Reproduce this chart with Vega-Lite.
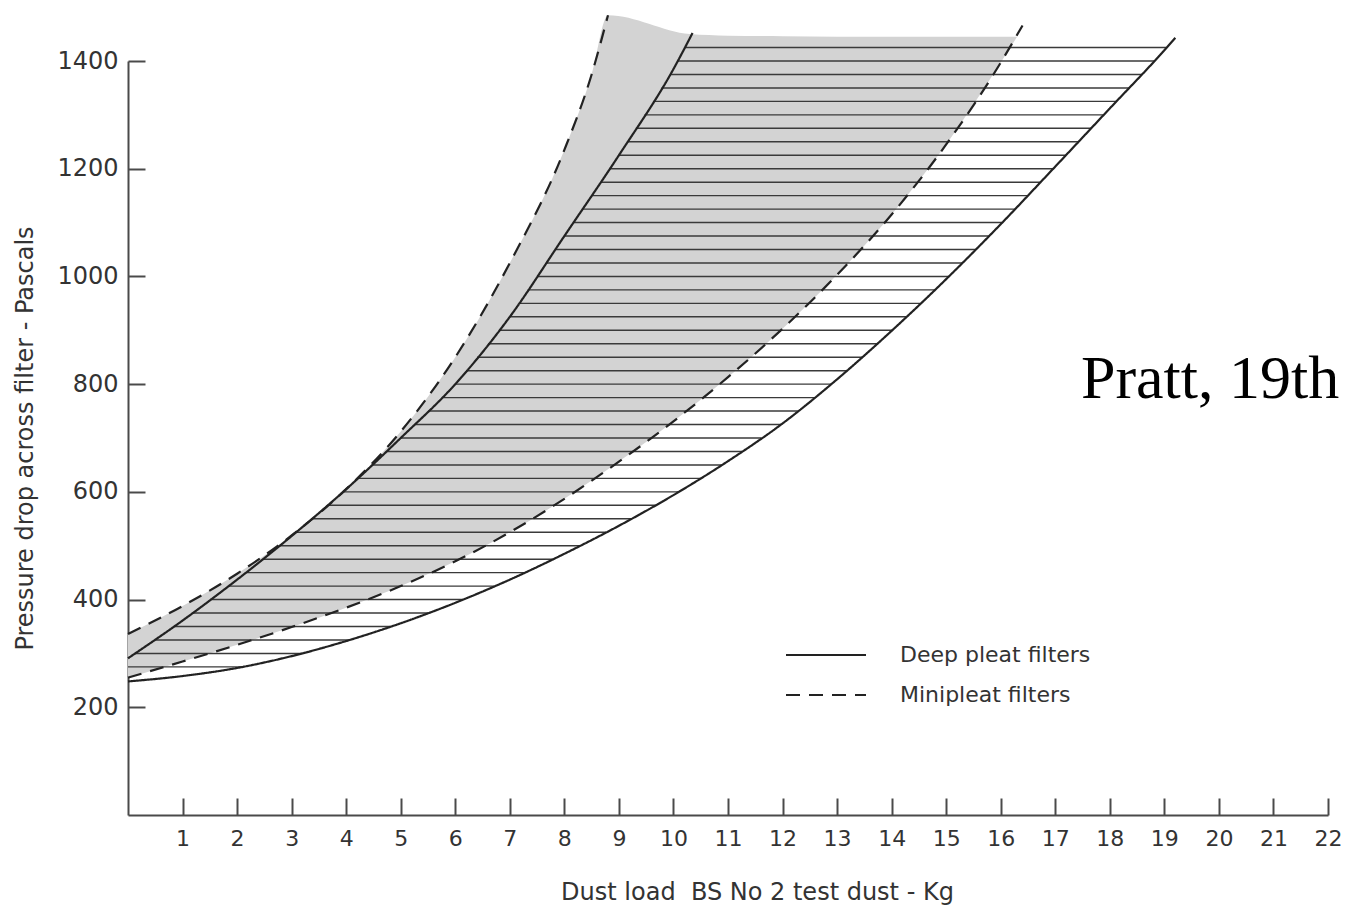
{
  "$schema": "https://vega.github.io/schema/vega-lite/v6.json",
  "width": 1200,
  "height": 754,
  "autosize": {"type": "none"},
  "padding": {"left": 128, "top": 61, "right": 25, "bottom": 93},
  "background": "white",
  "config": {"view": {"stroke": null}, "font": "DejaVu Sans"},
  "datasets": {
    "curves": [
      {"curve": "A", "series": "Deep pleat filters", "x": 0, "y": 291},
      {"curve": "A", "series": "Deep pleat filters", "x": 1, "y": 361},
      {"curve": "A", "series": "Deep pleat filters", "x": 2, "y": 437},
      {"curve": "A", "series": "Deep pleat filters", "x": 3, "y": 518},
      {"curve": "A", "series": "Deep pleat filters", "x": 4, "y": 605},
      {"curve": "A", "series": "Deep pleat filters", "x": 5, "y": 700},
      {"curve": "A", "series": "Deep pleat filters", "x": 6, "y": 800},
      {"curve": "A", "series": "Deep pleat filters", "x": 7, "y": 925},
      {"curve": "A", "series": "Deep pleat filters", "x": 8, "y": 1075},
      {"curve": "A", "series": "Deep pleat filters", "x": 9, "y": 1225},
      {"curve": "A", "series": "Deep pleat filters", "x": 10, "y": 1385},
      {"curve": "A", "series": "Deep pleat filters", "x": 10.35, "y": 1452},
      {"curve": "D", "series": "Deep pleat filters", "x": 0, "y": 248},
      {"curve": "D", "series": "Deep pleat filters", "x": 1, "y": 258},
      {"curve": "D", "series": "Deep pleat filters", "x": 2, "y": 273},
      {"curve": "D", "series": "Deep pleat filters", "x": 3, "y": 295},
      {"curve": "D", "series": "Deep pleat filters", "x": 4, "y": 323},
      {"curve": "D", "series": "Deep pleat filters", "x": 5, "y": 356},
      {"curve": "D", "series": "Deep pleat filters", "x": 6, "y": 394},
      {"curve": "D", "series": "Deep pleat filters", "x": 7, "y": 437},
      {"curve": "D", "series": "Deep pleat filters", "x": 8, "y": 485},
      {"curve": "D", "series": "Deep pleat filters", "x": 9, "y": 537},
      {"curve": "D", "series": "Deep pleat filters", "x": 10, "y": 594},
      {"curve": "D", "series": "Deep pleat filters", "x": 11, "y": 657},
      {"curve": "D", "series": "Deep pleat filters", "x": 12, "y": 727},
      {"curve": "D", "series": "Deep pleat filters", "x": 13, "y": 809},
      {"curve": "D", "series": "Deep pleat filters", "x": 14, "y": 899},
      {"curve": "D", "series": "Deep pleat filters", "x": 15, "y": 995},
      {"curve": "D", "series": "Deep pleat filters", "x": 16, "y": 1097},
      {"curve": "D", "series": "Deep pleat filters", "x": 17, "y": 1204},
      {"curve": "D", "series": "Deep pleat filters", "x": 18, "y": 1312},
      {"curve": "D", "series": "Deep pleat filters", "x": 19, "y": 1420},
      {"curve": "D", "series": "Deep pleat filters", "x": 19.2, "y": 1443},
      {"curve": "B", "series": "Minipleat filters", "x": 0, "y": 336},
      {"curve": "B", "series": "Minipleat filters", "x": 1, "y": 388},
      {"curve": "B", "series": "Minipleat filters", "x": 2, "y": 448},
      {"curve": "B", "series": "Minipleat filters", "x": 3, "y": 519},
      {"curve": "B", "series": "Minipleat filters", "x": 4, "y": 605},
      {"curve": "B", "series": "Minipleat filters", "x": 5, "y": 712},
      {"curve": "B", "series": "Minipleat filters", "x": 6, "y": 850},
      {"curve": "B", "series": "Minipleat filters", "x": 7, "y": 1025},
      {"curve": "B", "series": "Minipleat filters", "x": 8, "y": 1235},
      {"curve": "B", "series": "Minipleat filters", "x": 8.5, "y": 1375},
      {"curve": "B", "series": "Minipleat filters", "x": 8.8, "y": 1485},
      {"curve": "C", "series": "Minipleat filters", "x": 0, "y": 255},
      {"curve": "C", "series": "Minipleat filters", "x": 1, "y": 285},
      {"curve": "C", "series": "Minipleat filters", "x": 2, "y": 316},
      {"curve": "C", "series": "Minipleat filters", "x": 3, "y": 349},
      {"curve": "C", "series": "Minipleat filters", "x": 4, "y": 385},
      {"curve": "C", "series": "Minipleat filters", "x": 5, "y": 425},
      {"curve": "C", "series": "Minipleat filters", "x": 6, "y": 471},
      {"curve": "C", "series": "Minipleat filters", "x": 7, "y": 525},
      {"curve": "C", "series": "Minipleat filters", "x": 8, "y": 587},
      {"curve": "C", "series": "Minipleat filters", "x": 9, "y": 656},
      {"curve": "C", "series": "Minipleat filters", "x": 10, "y": 731},
      {"curve": "C", "series": "Minipleat filters", "x": 11, "y": 813},
      {"curve": "C", "series": "Minipleat filters", "x": 12, "y": 903},
      {"curve": "C", "series": "Minipleat filters", "x": 13, "y": 1003},
      {"curve": "C", "series": "Minipleat filters", "x": 14, "y": 1115},
      {"curve": "C", "series": "Minipleat filters", "x": 15, "y": 1245},
      {"curve": "C", "series": "Minipleat filters", "x": 16, "y": 1397},
      {"curve": "C", "series": "Minipleat filters", "x": 16.4, "y": 1466}
    ],
    "stipple": [
      {"x": 0, "y": 255, "y2": 336},
      {"x": 1, "y": 285, "y2": 388},
      {"x": 2, "y": 316, "y2": 448},
      {"x": 3, "y": 349, "y2": 519},
      {"x": 4, "y": 385, "y2": 605},
      {"x": 5, "y": 425, "y2": 712},
      {"x": 6, "y": 471, "y2": 850},
      {"x": 7, "y": 525, "y2": 1025},
      {"x": 8, "y": 587, "y2": 1235},
      {"x": 8.5, "y": 621, "y2": 1375},
      {"x": 8.8, "y": 642, "y2": 1485},
      {"x": 10.3, "y": 755, "y2": 1450},
      {"x": 11, "y": 813, "y2": 1447},
      {"x": 12, "y": 903, "y2": 1446},
      {"x": 13, "y": 1003, "y2": 1445},
      {"x": 14, "y": 1115, "y2": 1445},
      {"x": 15, "y": 1245, "y2": 1445},
      {"x": 16, "y": 1397, "y2": 1445},
      {"x": 16.3, "y": 1445, "y2": 1445}
    ],
    "hatch": [
      {"y": 275, "x": 0, "x2": 2.09},
      {"y": 300, "x": 0.13, "x2": 3.18},
      {"y": 325, "x": 0.49, "x2": 4.06},
      {"y": 350, "x": 0.84, "x2": 4.82},
      {"y": 375, "x": 1.18, "x2": 5.5},
      {"y": 400, "x": 1.51, "x2": 6.14},
      {"y": 425, "x": 1.84, "x2": 6.72},
      {"y": 450, "x": 2.16, "x2": 7.27},
      {"y": 475, "x": 2.47, "x2": 7.79},
      {"y": 500, "x": 2.78, "x2": 8.29},
      {"y": 525, "x": 3.08, "x2": 8.77},
      {"y": 550, "x": 3.37, "x2": 9.23},
      {"y": 575, "x": 3.66, "x2": 9.67},
      {"y": 600, "x": 3.94, "x2": 10.1},
      {"y": 625, "x": 4.21, "x2": 10.49},
      {"y": 650, "x": 4.47, "x2": 10.89},
      {"y": 675, "x": 4.74, "x2": 11.26},
      {"y": 700, "x": 5.0, "x2": 11.61},
      {"y": 725, "x": 5.25, "x2": 11.97},
      {"y": 750, "x": 5.5, "x2": 12.28},
      {"y": 775, "x": 5.75, "x2": 12.59},
      {"y": 800, "x": 6.0, "x2": 12.89},
      {"y": 825, "x": 6.2, "x2": 13.18},
      {"y": 850, "x": 6.4, "x2": 13.46},
      {"y": 875, "x": 6.6, "x2": 13.73},
      {"y": 900, "x": 6.8, "x2": 14.01},
      {"y": 925, "x": 7.0, "x2": 14.27},
      {"y": 950, "x": 7.17, "x2": 14.53},
      {"y": 975, "x": 7.33, "x2": 14.79},
      {"y": 1000, "x": 7.5, "x2": 15.05},
      {"y": 1025, "x": 7.67, "x2": 15.29},
      {"y": 1050, "x": 7.83, "x2": 15.54},
      {"y": 1075, "x": 8.0, "x2": 15.78},
      {"y": 1100, "x": 8.17, "x2": 16.03},
      {"y": 1125, "x": 8.33, "x2": 16.26},
      {"y": 1150, "x": 8.5, "x2": 16.5},
      {"y": 1175, "x": 8.67, "x2": 16.73},
      {"y": 1200, "x": 8.83, "x2": 16.96},
      {"y": 1225, "x": 9.0, "x2": 17.19},
      {"y": 1250, "x": 9.16, "x2": 17.43},
      {"y": 1275, "x": 9.31, "x2": 17.66},
      {"y": 1300, "x": 9.47, "x2": 17.89},
      {"y": 1325, "x": 9.63, "x2": 18.12},
      {"y": 1350, "x": 9.78, "x2": 18.35},
      {"y": 1375, "x": 9.94, "x2": 18.58},
      {"y": 1400, "x": 10.08, "x2": 18.81},
      {"y": 1425, "x": 10.21, "x2": 19.04}
    ],
    "note": [
      {"x": 17.47, "y": 774, "text": "Pratt, 19th"}
    ]
  },
  "encoding": {
    "x": {
      "field": "x",
      "type": "quantitative",
      "scale": {"domain": [0, 22], "nice": false, "zero": false},
      "axis": {
        "title": "Dust load\u00a0 BS No 2 test dust - Kg",
        "values": [1, 2, 3, 4, 5, 6, 7, 8, 9, 10, 11, 12, 13, 14, 15, 16, 17, 18, 19, 20, 21, 22],
        "format": "d",
        "grid": false,
        "domainColor": "#4a4a4a",
        "domainWidth": 2,
        "tickColor": "#4a4a4a",
        "tickWidth": 2,
        "tickSize": -17,
        "labelPadding": 30,
        "labelFont": "DejaVu Sans",
        "labelFontSize": 22,
        "labelColor": "#333333",
        "labelFlush": false,
        "labelOverlap": false,
        "titleFont": "DejaVu Sans",
        "titleFontSize": 24,
        "titleFontWeight": "normal",
        "titleColor": "#333333",
        "titleX": 629,
        "titleY": 77,
        "titleBaseline": "middle",
        "titleAlign": "center"
      }
    },
    "y": {
      "field": "y",
      "type": "quantitative",
      "scale": {"domain": [0, 1400], "nice": false},
      "axis": {
        "title": "Pressure drop across filter - Pascals",
        "values": [200, 400, 600, 800, 1000, 1200, 1400],
        "format": "d",
        "grid": false,
        "domainColor": "#4a4a4a",
        "domainWidth": 2,
        "tickColor": "#4a4a4a",
        "tickWidth": 2,
        "tickSize": -17,
        "labelPadding": 27,
        "labelFont": "DejaVu Sans",
        "labelFontSize": 24,
        "labelColor": "#333333",
        "labelFlush": false,
        "labelOverlap": false,
        "titleFont": "DejaVu Sans",
        "titleFontSize": 24,
        "titleFontWeight": "normal",
        "titleColor": "#333333",
        "titleX": -103,
        "titleY": 377,
        "titleAngle": 270,
        "titleBaseline": "middle",
        "titleAlign": "center"
      }
    }
  },
  "layer": [
    {
      "data": {"name": "stipple"},
      "mark": {"type": "area", "interpolate": "monotone", "fill": "#d3d3d3", "stroke": null, "clip": false},
      "encoding": {"y2": {"field": "y2"}}
    },
    {
      "data": {"name": "hatch"},
      "mark": {"type": "rule", "stroke": "#3a3a3a", "strokeWidth": 1.4},
      "encoding": {"x2": {"field": "x2"}}
    },
    {
      "data": {"name": "curves"},
      "mark": {"type": "line", "interpolate": "monotone", "stroke": "#222222", "strokeWidth": 2.2},
      "encoding": {
        "detail": {"field": "curve"},
        "strokeDash": {
          "field": "series",
          "type": "nominal",
          "scale": {"domain": ["Deep pleat filters", "Minipleat filters"], "range": [[1, 0], [14, 9]]},
          "legend": {
            "orient": "none",
            "legendX": 677,
            "legendY": 573,
            "title": null,
            "symbolType": "M-2,0H2",
            "symbolSize": 1600,
            "symbolStrokeWidth": 2,
            "symbolStrokeColor": "#222222",
            "labelFont": "DejaVu Sans",
            "labelFontSize": 22,
            "labelColor": "#333333",
            "labelOffset": 53,
            "labelLimit": 0,
            "rowPadding": 8
          }
        }
      }
    },
    {
      "data": {"name": "note"},
      "mark": {"type": "text", "font": "Liberation Serif", "fontSize": 62, "align": "left", "baseline": "alphabetic", "color": "#000000"},
      "encoding": {"text": {"field": "text"}}
    }
  ]
}
